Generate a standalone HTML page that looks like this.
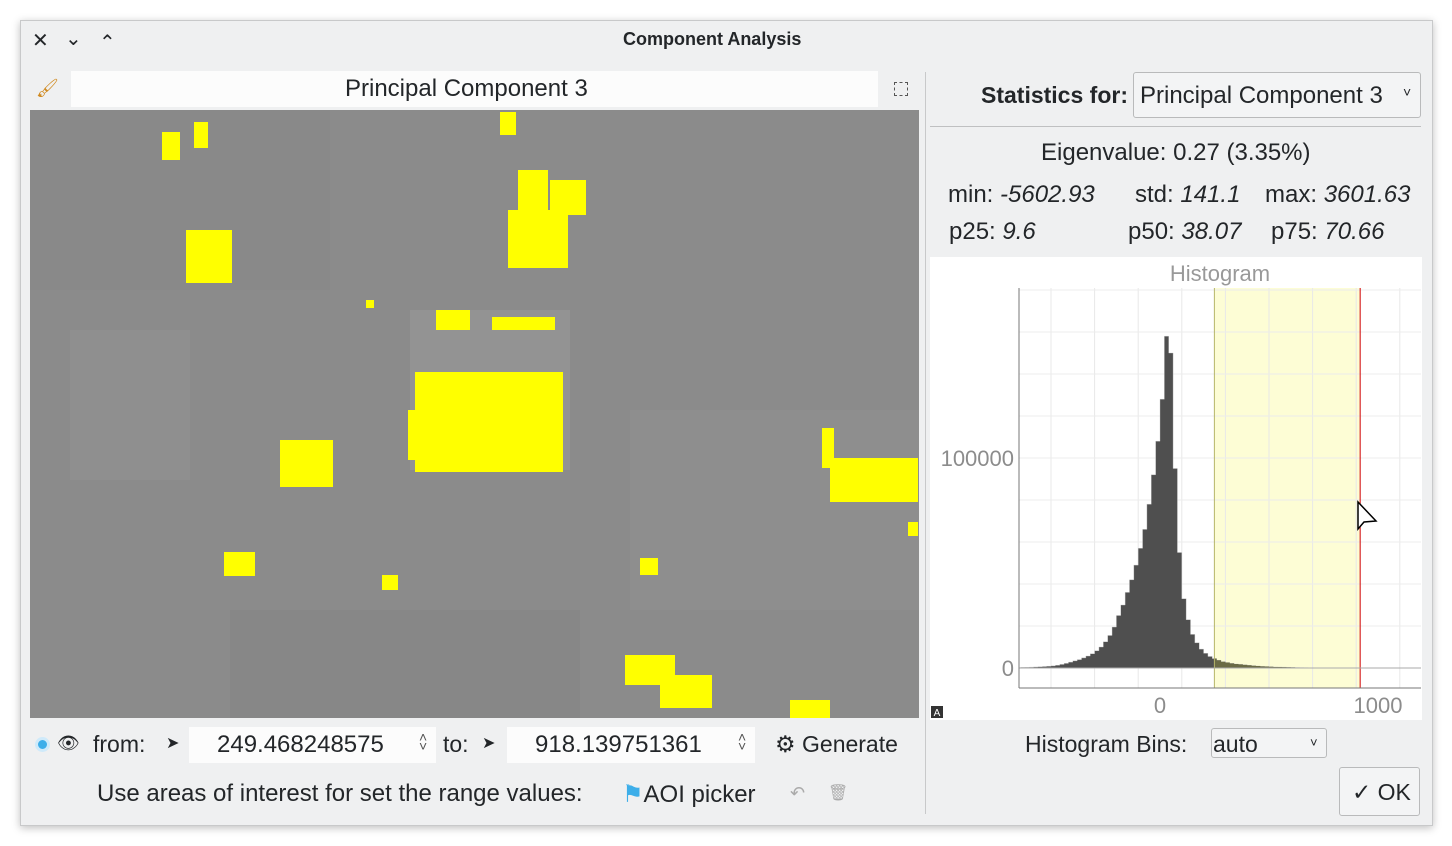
<!DOCTYPE html>
<html><head><meta charset="utf-8">
<style>
*{box-sizing:border-box;margin:0;padding:0}
body{width:1452px;height:846px;background:#fff;font-family:"Liberation Sans",sans-serif;color:#232629;position:relative;overflow:hidden}
.abs{position:absolute}
.t{position:absolute;white-space:nowrap;font-size:23px}
.field{position:absolute;background:#fcfcfc}
</style></head><body>
<div class="abs" style="left:20px;top:20px;width:1413px;height:806px;background:#eff0f1;border:1px solid #c8c9ca;box-shadow:0 2px 8px rgba(0,0,0,.25)"></div>
<div class="t" style="left:32px;top:28px;font-size:20px">✕</div>
<div class="t" style="left:65px;top:26px;font-size:20px">⌄</div>
<div class="t" style="left:99px;top:30px;font-size:20px">⌃</div>
<div class="t" style="left:623px;top:29px;font-size:18px;font-weight:bold">Component Analysis</div>

<div class="t" style="left:36px;top:78px;font-size:18px;color:#d08a20">🖌</div>
<div class="field" style="left:71px;top:71px;width:807px;height:36px"></div>
<div class="t" style="left:345px;top:75px;font-size:24px">Principal Component 3</div>
<div class="abs" style="left:894px;top:82px;width:14px;height:14px;border:1px dashed #555"></div>

<svg class="abs" style="left:30px;top:110px" width="889" height="608" id="img">
<rect width="889" height="608" fill="#8b8b8b"/>
</svg>

<div class="abs" style="left:35px;top:737px;width:15px;height:15px;border-radius:50%;background:#3daee9;border:3px solid #cfeafa"></div>
<div class="t" style="left:57px;top:733px;font-size:18px">👁</div>
<div class="t" style="left:93px;top:731px">from:</div>
<div class="t" style="left:166px;top:733px;font-size:16px">➤</div>
<div class="field" style="left:189px;top:727px;width:247px;height:36px"></div>
<div class="t" style="left:217px;top:731px;font-size:24px">249.468248575</div>
<div class="t" style="left:419px;top:733px;font-size:14px;line-height:9px;color:#555">˄<br>˅</div>
<div class="t" style="left:443px;top:731px">to:</div>
<div class="t" style="left:482px;top:733px;font-size:16px">➤</div>
<div class="field" style="left:507px;top:727px;width:248px;height:36px"></div>
<div class="t" style="left:535px;top:731px;font-size:24px">918.139751361</div>
<div class="t" style="left:738px;top:733px;font-size:14px;line-height:9px;color:#555">˄<br>˅</div>
<div class="t" style="left:775px;top:731px">⚙ Generate</div>
<div class="t" style="left:97px;top:780px;font-size:24px">Use areas of interest for set the range values:</div>
<div class="t" style="left:622px;top:780px;font-size:24px"><span style="color:#3daee9">⚑</span>AOI picker</div>
<div class="t" style="left:790px;top:783px;font-size:18px;color:#aaa">↶</div>
<div class="t" style="left:828px;top:783px;font-size:16px;color:#aaa">🗑</div>

<div class="abs" style="left:925px;top:72px;width:1px;height:742px;background:#c8c9ca"></div>

<div class="t" style="left:981px;top:82px;font-weight:bold">Statistics for:</div>
<div class="abs" style="left:1133px;top:72px;width:288px;height:46px;background:#f3f4f5;border:1px solid #b9babb;border-radius:3px"></div>
<div class="t" style="left:1140px;top:82px;font-size:24px">Principal Component 3</div>
<div class="t" style="left:1403px;top:84px;font-size:14px">˅</div>
<div class="abs" style="left:930px;top:126px;width:491px;height:1px;background:#bfc0c1"></div>
<div class="t" style="left:1041px;top:139px;font-size:24px">Eigenvalue: 0.27 (3.35%)</div>
<div class="t" style="left:948px;top:181px;font-size:24px">min: <i>-5602.93</i></div>
<div class="t" style="left:1135px;top:181px;font-size:24px">std: <i>141.1</i></div>
<div class="t" style="left:1265px;top:181px;font-size:24px">max: <i>3601.63</i></div>
<div class="t" style="left:949px;top:218px;font-size:24px">p25: <i>9.6</i></div>
<div class="t" style="left:1128px;top:218px;font-size:24px">p50: <i>38.07</i></div>
<div class="t" style="left:1271px;top:218px;font-size:24px">p75: <i>70.66</i></div>

<svg class="abs" style="left:930px;top:257px" width="492" height="463" id="hist"></svg>

<div class="t" style="left:1025px;top:731px">Histogram Bins:</div>
<div class="abs" style="left:1211px;top:728px;width:116px;height:30px;background:#f3f4f5;border:1px solid #b9babb;border-radius:3px"></div>
<div class="t" style="left:1213px;top:731px">auto</div>
<div class="t" style="left:1310px;top:735px;font-size:13px">˅</div>
<div class="abs" style="left:1339px;top:767px;width:81px;height:49px;background:#f3f4f5;border:1px solid #b9babb;border-radius:3px"></div>
<div class="t" style="left:1352px;top:779px">✓ OK</div>

<script>
const blobs=[[132,22,18,28],[164,12,14,26],[470,2,16,23],[488,60,30,50],[478,100,60,58],[520,70,36,35],[156,120,46,53],[336,190,8,8],[406,200,34,20],[462,207,63,13],[385,262,148,100],[378,300,20,50],[250,330,53,47],[792,318,12,40],[800,348,88,44],[878,412,10,14],[194,442,31,24],[352,465,16,15],[610,448,18,17],[595,545,50,30],[630,565,52,33],[760,590,40,18]];
const svgNS="http://www.w3.org/2000/svg";
const img=document.getElementById('img');
const patches=[[380,200,160,160,'#939393'],[0,0,300,180,'#898989'],[600,300,289,200,'#8e8e8e'],[200,500,350,108,'#878787'],[40,220,120,150,'#8f8f8f']];
for(const p of patches){const r=document.createElementNS(svgNS,'rect');r.setAttribute('x',p[0]);r.setAttribute('y',p[1]);r.setAttribute('width',p[2]);r.setAttribute('height',p[3]);r.setAttribute('fill',p[4]);


img.appendChild(r);}
for(const b of blobs){const r=document.createElementNS(svgNS,'rect');r.setAttribute('x',b[0]);r.setAttribute('y',b[1]);r.setAttribute('width',b[2]);r.setAttribute('height',b[3]);r.setAttribute('fill','#ffff00');


img.appendChild(r);}
</script>
<script>
const binCenters=[-630,-610,-590,-570,-550,-530,-510,-490,-470,-450,-430,-410,-390,-370,-350,-330,-310,-290,-270,-250,-230,-210,-190,-170,-150,-130,-110,-90,-70,-50,-30,-10,10,30,50,70,90,110,130,150,170,190,210,230,250,270,290,310,330,350,370,390,410,430,450,470,490,510,530,550,570,590,610,630,650,670,690];
const binCounts=[300,350,400,500,600,700,850,1000,1300,1700,2200,2800,3400,4000,4800,5700,6800,8200,10000,12500,15500,19500,25000,30000,36000,42000,49000,57000,66000,78000,92000,108000,128000,158000,150000,95000,55000,33000,23000,16000,12000,9000,7000,5500,4500,3700,3000,2600,2200,1900,1700,1500,1300,1100,950,800,700,600,500,450,400,350,300,250,200,150,100];
const xTicks=[0,1000];
const yTicks=[0,100000];
const rangeFrom=249.468248575, rangeTo=918.139751361;
const binWidth=20;
(function(){
const s=document.getElementById('hist');
const L=89,R=491,T=31,B=431;
const X=v=>230+v*0.218, Y=v=>411-v*0.0021;
function el(tag,attrs,name,inter){const e=document.createElementNS("http://www.w3.org/2000/svg",tag);for(const k in attrs)e.setAttribute(k,attrs[k]);


s.appendChild(e);return e;}
el('rect',{x:0,y:0,width:492,height:463,fill:'#fff'},'histogram-background','false');
el('rect',{x:X(rangeFrom),y:T,width:X(rangeTo)-X(rangeFrom),height:B-T,fill:'#fdfdd5'},'selected-range','true');
for(let v=-500;v<=1100;v+=200) if(X(v)>L) el('line',{x1:X(v),x2:X(v),y1:T,y2:B,stroke:'#e8e8e8'},'x-grid-line','false');
for(let v=0;v<=180000;v+=20000) el('line',{x1:L,x2:R,y1:Y(v),y2:Y(v),stroke:'#ececec'},'y-grid-line','false');
let d='M'+X(binCenters[0]-binWidth/2)+','+Y(0);
binCenters.forEach((c,i)=>{d+=' L'+X(c-binWidth/2)+','+Y(binCounts[i])+' L'+X(c+binWidth/2)+','+Y(binCounts[i]);});
d+=' L'+X(binCenters[binCenters.length-1]+binWidth/2)+','+Y(0)+' Z';
const defs=el('defs',{},'chart-defs','false');
const cp=document.createElementNS("http://www.w3.org/2000/svg",'clipPath');cp.setAttribute('id','rc');
const cr=document.createElementNS("http://www.w3.org/2000/svg",'rect');cr.setAttribute('x',X(rangeFrom));cr.setAttribute('y',T);cr.setAttribute('width',X(rangeTo)-X(rangeFrom));cr.setAttribute('height',B-T);
cp.appendChild(cr);defs.appendChild(cp);
el('path',{d:d,fill:'#4f4f4f',stroke:'#c4c4c4','stroke-width':0.4},'histogram-bars','false');
el('path',{d:d,fill:'#6b6b45','clip-path':'url(#rc)'},'histogram-bars-in-range','false');
el('line',{x1:X(rangeFrom),x2:X(rangeFrom),y1:T,y2:B,stroke:'#b5b56a'},'range-from-line','true');
el('line',{x1:X(rangeTo),x2:X(rangeTo),y1:T,y2:B,stroke:'#d00000'},'range-to-line','true');
el('line',{x1:L,x2:R,y1:Y(0),y2:Y(0),stroke:'#aaa'},'zero-line','false');
el('line',{x1:L,x2:L,y1:T,y2:B,stroke:'#777'},'y-axis','false');
el('line',{x1:L,x2:R,y1:B,y2:B,stroke:'#777'},'x-axis','false');
xTicks.forEach(v=>{const t=el('text',{x:X(v),y:456,'text-anchor':'middle','font-size':22,fill:'#8c8c8c','font-family':'Liberation Sans'},'x-tick-label','false');t.textContent=v;});
yTicks.forEach(v=>{const t=el('text',{x:84,y:Y(v)+8,'text-anchor':'end','font-size':22,fill:'#8c8c8c','font-family':'Liberation Sans'},'y-tick-label','false');t.textContent=v;});
const tt=el('text',{x:290,y:24,'text-anchor':'middle','font-size':22,fill:'#999','font-family':'Liberation Sans'},'chart-title','false');tt.textContent='Histogram';
el('path',{d:'M428,245 L428,272 L434,265 L446,264 Z',fill:'#fff',stroke:'#000','stroke-width':1.5},'mouse-cursor','false');
el('rect',{x:1,y:449,width:12,height:12,fill:'#333'},'autoscale-icon','true');
const a=el('text',{x:7,y:459,'text-anchor':'middle','font-size':10,fill:'#fff','font-family':'Liberation Sans'},'autoscale-icon-label','false');a.textContent='A';
})();
</script>
</body></html>
